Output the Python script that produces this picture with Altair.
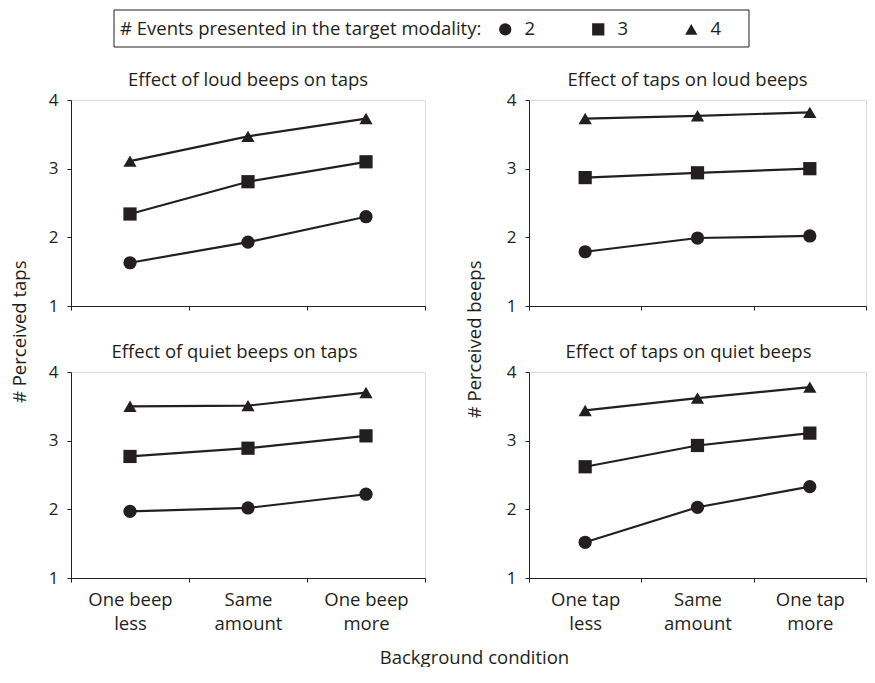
import altair as alt
import pandas as pd

# ---- data -------------------------------------------------------------
beep_conditions = ["One beep less", "Same amount", "One beep more"]
tap_conditions = ["One tap less", "Same amount", "One tap more"]
events = ["2", "3", "4"]
shapes = ["circle", "square", "triangle-up"]

loud_beeps_on_taps_2 = [1.63, 1.93, 2.30]
loud_beeps_on_taps_3 = [2.34, 2.81, 3.10]
loud_beeps_on_taps_4 = [3.11, 3.47, 3.73]

taps_on_loud_beeps_2 = [1.79, 1.99, 2.02]
taps_on_loud_beeps_3 = [2.87, 2.94, 3.00]
taps_on_loud_beeps_4 = [3.73, 3.77, 3.82]

quiet_beeps_on_taps_2 = [1.97, 2.02, 2.22]
quiet_beeps_on_taps_3 = [2.77, 2.89, 3.07]
quiet_beeps_on_taps_4 = [3.50, 3.51, 3.70]

taps_on_quiet_beeps_2 = [1.52, 2.03, 2.33]
taps_on_quiet_beeps_3 = [2.62, 2.93, 3.11]
taps_on_quiet_beeps_4 = [3.44, 3.62, 3.78]

y_ticks = [1, 2, 3, 4]

FONT = "Open Sans"
C = "#231f20"
FS = 18.5
TICK_FS = 17


def frame(cats, s2, s3, s4):
    rows = []
    for ev, series in zip(events, [s2, s3, s4]):
        for c, v in zip(cats, series):
            rows.append({"condition": c, "events": ev, "perceived": v})
    return pd.DataFrame(rows)


legend = alt.Legend(
    title="# Events presented in the target modality:",
    orient="none", legendX=49, legendY=-80,
    direction="horizontal", titleOrient="left", titleLimit=500,
    titleFont=FONT, titleFontSize=FS, titleFontWeight="normal", titleColor=C,
    titlePadding=14,
    labelFont=FONT, labelFontSize=FS, labelColor=C, labelOffset=10,
    symbolSize=150, symbolFillColor=C, symbolStrokeColor=C,
    columnPadding=53, padding=0,
)

label_expr = ("[slice(datum.label, 0, lastindexof(datum.label, ' ')), "
              "slice(datum.label, lastindexof(datum.label, ' ') + 1)]")


def panel(df, cats, title, dx, width, show_labels, y_title=None, y_title_x=0,
          x_title=None, box=False, title_offset=-17):
    if show_labels:
        extra = {}
        if x_title:
            extra = {"titleX": 403, "titleY": 85, "titleBaseline": "alphabetic",
                     "titleAlign": "center", "titleFont": FONT,
                     "titleFontSize": FS, "titleFontWeight": "normal",
                     "titleColor": C}
        xaxis = alt.Axis(
            tickBand="extent", labelAngle=0, labelExpr=label_expr,
            labelFont=FONT, labelFontSize=FS, labelColor=C, labelLineHeight=24,
            labelPadding=8, tickSize=4, tickColor=C, domainColor=C,
            title=x_title if x_title else None, **extra,
        )
    else:
        xaxis = alt.Axis(tickBand="extent", labels=False, tickSize=4,
                         tickColor=C, domainColor=C, title=None)
    yaxis_kw = dict(values=y_ticks, format="d", tickSize=4, tickColor=C,
                    domainColor=C, labelPadding=9, labelFont=FONT,
                    labelFontSize=TICK_FS, labelColor=C, grid=False)
    if y_title:
        yaxis = alt.Axis(title=y_title, titleAngle=270, titleX=y_title_x,
                         titleY=160, titleAlign="right", titleBaseline="middle",
                         titleFont=FONT, titleFontSize=FS,
                         titleFontWeight="normal", titleColor=C, **yaxis_kw)
    else:
        yaxis = alt.Axis(title=None, **yaxis_kw)

    x = alt.X("condition:N", sort=cats,
              scale=alt.Scale(paddingInner=0, paddingOuter=0), axis=xaxis)
    y = alt.Y("perceived:Q", scale=alt.Scale(domain=[1, 4], nice=False, zero=False),
              axis=yaxis)
    base = alt.Chart(df).encode(x=x, y=y)
    lines = base.mark_line(color=C, strokeWidth=2.2).encode(detail="events:N")
    pts = base.mark_point(filled=True, opacity=1, size=175, color=C).encode(
        shape=alt.Shape("events:N", scale=alt.Scale(domain=events, range=shapes),
                        legend=legend)
    )
    layers = [lines, pts]
    if box:
        rect = alt.Chart(pd.DataFrame({"k": [0]})).mark_rect(
            fillOpacity=0, stroke=C, strokeWidth=1
        ).encode(x=alt.value(43), x2=alt.value(678), y=alt.value(-90),
                 y2=alt.value(-53))
        layers.append(rect)
    return alt.layer(*layers).properties(
        width=width, height=206,
        title=alt.TitleParams(title, dx=dx, offset=title_offset, baseline="bottom",
                              anchor="middle", frame="group", font=FONT,
                              fontSize=FS, fontWeight="normal", color=C),
    )


RIGHT_W = 337

p1 = panel(frame(beep_conditions, loud_beeps_on_taps_2, loud_beeps_on_taps_3,
                 loud_beeps_on_taps_4), beep_conditions,
           "Effect of loud beeps on taps", 0, 354, False,
           y_title="# Perceived taps", y_title_x=-52, box=True, title_offset=-99)
p2 = panel(frame(tap_conditions, taps_on_loud_beeps_2, taps_on_loud_beeps_3,
                 taps_on_loud_beeps_4), tap_conditions,
           "Effect of taps on loud beeps", -10, RIGHT_W, False,
           y_title="# Perceived beeps", y_title_x=-55)
p3 = panel(frame(beep_conditions, quiet_beeps_on_taps_2, quiet_beeps_on_taps_3,
                 quiet_beeps_on_taps_4), beep_conditions,
           "Effect of quiet beeps on taps", -13.5, 354, True,
           x_title="Background condition")
p4 = panel(frame(tap_conditions, taps_on_quiet_beeps_2, taps_on_quiet_beeps_3,
                 taps_on_quiet_beeps_4), tap_conditions,
           "Effect of taps on quiet beeps", -9, RIGHT_W, True)

chart = alt.concat(
    p1, p2, p3, p4, columns=2,
    spacing={"row": 66, "column": 104}, bounds="flush",
).properties(
    padding={"left": 1, "top": 1, "right": 0, "bottom": 0},
).configure_view(stroke=None).configure(background="white")

chart.save("out.html", embed_options={"renderer": "svg", "actions": False})
